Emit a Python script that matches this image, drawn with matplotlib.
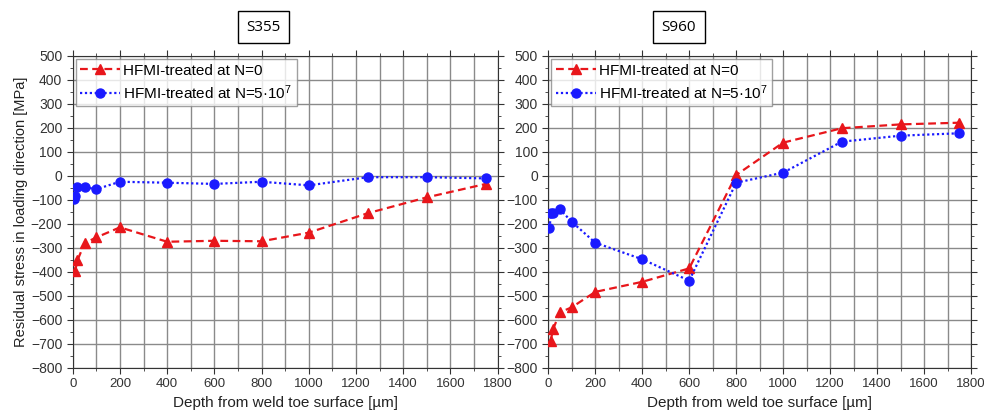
import matplotlib
matplotlib.use("Agg")
import matplotlib.pyplot as plt
from matplotlib.ticker import MultipleLocator

plt.rcParams['font.family'] = ['Liberation Sans', 'DejaVu Sans']
plt.rcParams['mathtext.fontset'] = 'custom'
plt.rcParams['mathtext.rm'] = 'Liberation Sans'
plt.rcParams['mathtext.it'] = 'Liberation Sans'
plt.rcParams['mathtext.default'] = 'regular'

# S355 data
s355_n0_x = [10, 20, 50, 100, 200, 400, 600, 800, 1000, 1250, 1500, 1750]
s355_n0_y = [-397, -352, -280, -256, -214, -274, -270, -272, -236, -155, -89, -33]
s355_n5_x = [5, 8, 20, 50, 100, 200, 400, 600, 800, 1000, 1250, 1500, 1750]
s355_n5_y = [-95, -82, -47, -47, -55, -24, -28, -33, -24, -39, -5, -5, -10]

# S960 data
s960_n0_x = [10, 20, 50, 100, 200, 400, 600, 800, 1000, 1250, 1500, 1750]
s960_n0_y = [-688, -639, -568, -547, -483, -441, -385, 4, 139, 199, 215, 222]
s960_n5_x = [5, 12, 20, 50, 100, 200, 400, 600, 800, 1000, 1250, 1500, 1750]
s960_n5_y = [-218, -153, -153, -139, -191, -278, -347, -436, -28, 14, 143, 168, 178]

titles = ["S355", "S960"]
lab_n0 = "HFMI-treated at N=0"
lab_n5 = r"HFMI-treated at N=5·10$^{7}$"

red = '#e8161b'
blue = '#1a1aff'

fig = plt.figure(figsize=(9.84, 4.16), dpi=100)
ax1 = fig.add_axes([0.0739, 0.1154, 0.4319, 0.75])
ax2 = fig.add_axes([0.5572, 0.1154, 0.4296, 0.75])

datasets = [(s355_n0_x, s355_n0_y, s355_n5_x, s355_n5_y),
            (s960_n0_x, s960_n0_y, s960_n5_x, s960_n5_y)]

for ax, (x0, y0, x5, y5) in zip([ax1, ax2], datasets):
    ax.plot(x0, y0, ls=(0, (3.5, 2)), color=red, lw=1.6, marker='^', ms=7,
            label=lab_n0, zorder=3)
    ax.plot(x5, y5, ls=(0, (1, 1.2)), color=blue, lw=1.6, marker='o', ms=6.5,
            label=lab_n5, zorder=3)
    ax.set_xlim(0, 1800)
    ax.set_ylim(-800, 500)
    ax.xaxis.set_major_locator(MultipleLocator(200))
    ax.xaxis.set_minor_locator(MultipleLocator(100))
    ax.yaxis.set_major_locator(MultipleLocator(100))
    ax.yaxis.set_minor_locator(MultipleLocator(50))
    ax.grid(True, which='major', color='#8a8a8a', lw=1.0)
    ax.grid(True, which='minor', axis='x', color='#8a8a8a', lw=1.0)
    ax.set_axisbelow(True)
    ax.tick_params(which='both', direction='out', top=True, right=True,
                   labelsize=10, labelcolor='#333333', color='#333333')
    ax.tick_params(axis='x', labelsize=9.5)
    ax.tick_params(which='major', length=4)
    ax.tick_params(which='minor', length=2.5)
    for sp in ax.spines.values():
        sp.set_color('#333333')
    ax.set_xlabel("Depth from weld toe surface [µm]", fontsize=11, color='#222222')
    leg = ax.legend(loc='upper left', fontsize=11, frameon=True, fancybox=False,
                    edgecolor='#888888', borderaxespad=0.2, handlelength=2.6,
                    borderpad=0.3, labelspacing=0.35, handletextpad=0.2)
    leg.get_frame().set_linewidth(1.0)

ax1.set_ylabel("Residual stress in loading direction [MPa]", fontsize=10.5,
               color='#222222', labelpad=2)

fig.text(0.268, 0.935, titles[0], ha='center', va='center', fontsize=11,
         family='Open Sans',
         bbox=dict(boxstyle='square,pad=0.55', fc='white', ec='black', lw=1))
fig.text(0.690, 0.935, titles[1], ha='center', va='center', fontsize=11,
         family='Open Sans',
         bbox=dict(boxstyle='square,pad=0.55', fc='white', ec='black', lw=1))

fig.savefig("out.png", dpi=100)
